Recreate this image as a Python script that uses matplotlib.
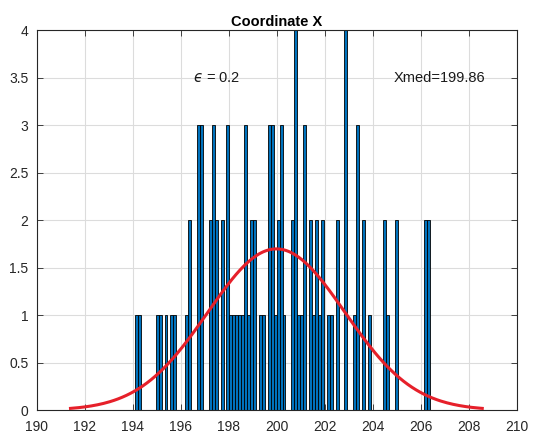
import numpy as np
import matplotlib.pyplot as plt

plt.rcParams['font.family'] = ['Liberation Sans', 'DejaVu Sans']
plt.rcParams['mathtext.fontset'] = 'dejavusans'

# histogram: 100 bins between these limits
x_min = 194.09
x_max = 206.38
counts = [1, 1, 0, 0, 0, 0, 0, 1, 1, 0,
          1, 0, 1, 1, 0, 0, 0, 1, 2, 0,
          0, 3, 3, 0, 0, 2, 3, 2, 0, 2,
          0, 3, 1, 1, 1, 1, 1, 3, 1, 2,
          2, 0, 1, 1, 0, 3, 3, 1, 2, 3,
          1, 0, 0, 2, 4, 1, 1, 3, 0, 2,
          1, 2, 1, 2, 0, 1, 1, 0, 2, 0,
          0, 4, 0, 0, 1, 3, 0, 2, 0, 1,
          0, 0, 0, 0, 2, 1, 0, 0, 2, 0,
          0, 0, 0, 0, 0, 0, 0, 0, 2, 2]

# normal fit
mu = 199.98
sigma = 2.86
x_med = 199.86
eps = 0.2

counts = np.array(counts)
nbins = len(counts)
edges = np.linspace(x_min, x_max, nbins + 1)
w = edges[1] - edges[0]

fig = plt.figure(figsize=(5.35, 4.42), dpi=100)
ax = fig.add_axes([0.069, 0.072, 0.897, 0.86])

ax.bar(edges[:-1], counts, width=w, align='edge', color='#0072BD',
       edgecolor='black', linewidth=0.6, zorder=2)

xs = np.linspace(mu - 3 * sigma, mu + 3 * sigma, 200)
ys = counts.sum() * w * np.exp(-0.5 * ((xs - mu) / sigma) ** 2) / (sigma * np.sqrt(2 * np.pi))
ax.plot(xs, ys, color='#E6202A', linewidth=2.2, zorder=3)

ax.set_xlim(190, 210)
ax.set_ylim(0, 4)
ax.set_xticks(np.arange(190, 211, 2))
ax.set_yticks(np.arange(0, 4.01, 0.5))
ax.set_yticklabels(['0', '0.5', '1', '1.5', '2', '2.5', '3', '3.5', '4'])
ax.grid(True, color='#DCDCDC', linewidth=0.8, zorder=0)
ax.set_axisbelow(True)
ax.tick_params(direction='in', top=True, right=True, length=4, width=0.6,
               labelsize=10, colors='#262626')
ax.tick_params(axis='x', pad=7)
ax.tick_params(axis='y', pad=6)
for s in ax.spines.values():
    s.set_linewidth(0.8)
    s.set_color('#262626')

ax.set_title('Coordinate X', fontsize=10.5, fontweight='bold', pad=3)
ax.text(196.5, 3.5, '$\u03f5$ = ' + str(eps), fontsize=10.5, va='center', color='#1a1a1a')
ax.text(204.85, 3.5, 'Xmed=' + str(x_med), fontsize=10.5, va='center', color='#1a1a1a')

fig.savefig('out.png', dpi=100)
